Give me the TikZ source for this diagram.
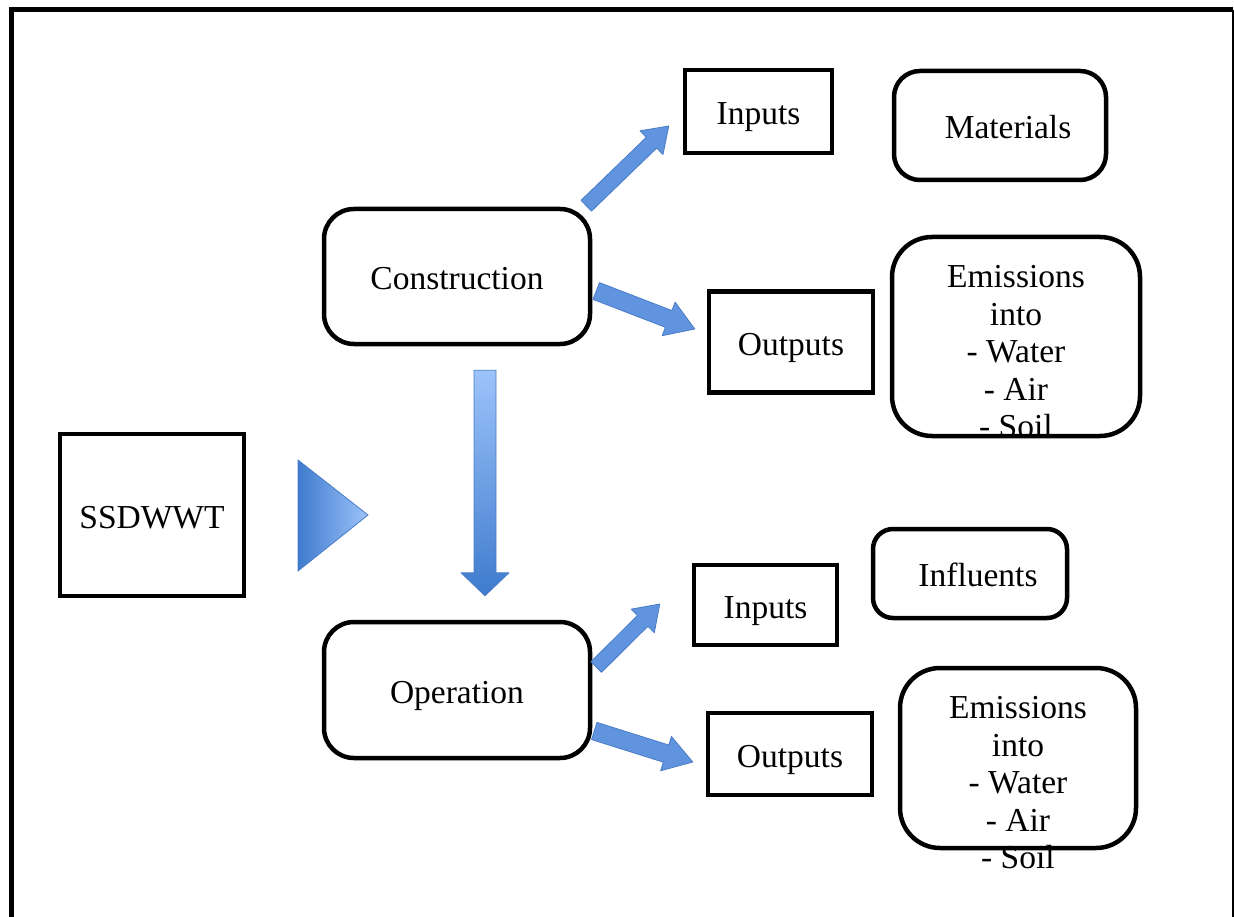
\documentclass[tikz,border=0pt]{standalone}
\usepackage{fontspec}
\setmainfont{Liberation Serif}
\usepackage{tikz}
\usetikzlibrary{positioning,calc}
\definecolor{arrowblue}{HTML}{6094DF}
\definecolor{arrowedge}{HTML}{4A7CC6}
\definecolor{shadelight}{HTML}{9DC3FA}
\definecolor{shadedark}{HTML}{3E7BCD}
\tikzstyle{sqbox}=[draw,line width=4.5pt,inner sep=0pt,align=center,text height=26pt,text depth=0pt]
\tikzstyle{rbox}=[sqbox,rounded corners=30pt]
\tikzstyle{lbl}=[inner sep=0pt,align=center]
\tikzstyle{flow}=[fill=arrowblue,draw=arrowedge,line width=0.8pt,line join=round]
\tikzstyle{bigflow}=[top color=shadelight,bottom color=shadedark,draw=arrowedge,line width=0.8pt,line join=round]
% block arrow: style, from, to, half shaft, half head, head length
\newcommand{\blockarrow}[6]{%
  \coordinate (ba-c) at ($(#3)!#6!(#2)$);
  \draw[#1] ($(#2)!#4!90:(#3)$) -- ($(ba-c)!#4!90:(#3)$) -- ($(ba-c)!#5!90:(#3)$)
    -- (#3) -- ($(ba-c)!#5!-90:(#3)$) -- ($(ba-c)!#4!-90:(#3)$) -- ($(#2)!#4!-90:(#3)$) -- cycle;
}

\begin{document}
\begin{tikzpicture}[x=1pt,y=-1pt,font=\fontsize{33.5}{37.5}\selectfont]
\useasboundingbox (0,0) rectangle (1234,917);
% frame
\draw[line width=5pt] (11,917) -- (11,10) -- (1233,10);
\draw[line width=2pt] (1233,10) -- (1233,917);

\node[sqbox,minimum width=184pt,minimum height=162pt] (ssd) at (152,515) {SSDWWT};
\shade[left color=shadedark,right color=shadelight,draw=arrowedge,line width=0.8pt] (298,460) -- (368,515) -- (298,571) -- cycle;

\node[rbox,minimum width=266pt,minimum height=135pt] (cons) at (457,276.5) {Construction};
\node[rbox,minimum width=266pt,minimum height=136pt] (op) at (457,690) {Operation};

% construction side
\node[sqbox,minimum width=147pt,minimum height=83pt] (inC) at (758.5,111.5) {Inputs};
\node[rbox,rounded corners=26pt,minimum width=212pt,minimum height=109pt] (matC) at (1000,125.5) {\hspace*{16pt}Materials};
\node[sqbox,minimum width=164pt,minimum height=101pt] (outC) at (791,342) {Outputs};
\node[rbox,rounded corners=40pt,minimum width=248pt,minimum height=199pt] (emC) at (1016,336.5) {};
\begin{scope}
\clip[rounded corners=38pt] ($(emC.south west)+(2.25,-2.25)$) rectangle ($(emC.north east)+(-2.25,2.25)$);
\node[lbl] (emCt) at ($(emC)+(0,15.5)$) {Emissions\\into\\- Water\\- Air\\- Soil};
\end{scope}

% operation side
\node[sqbox,minimum width=143pt,minimum height=80pt] (inO) at (765.5,605) {Inputs};
\node[rbox,rounded corners=20pt,minimum width=194pt,minimum height=89pt] (infO) at (970,573.5) {\hspace*{16pt}Influents};
\node[sqbox,minimum width=164pt,minimum height=82pt] (outO) at (790,754) {Outputs};
\node[rbox,rounded corners=40pt,minimum width=236pt,minimum height=180pt] (emO) at (1018,758) {};
\node[lbl] (emOt) at ($(emO)+(0,25)$) {Emissions\\into\\- Water\\- Air\\- Soil};

% arrows
\coordinate (ci-a) at ($(cons.north east)+(-6,-1)$);
\coordinate (ci-b) at ($(inC.west)+(-14,14.5)$);
\coordinate (cu-a) at ($(cons.east)+(4,14.5)$);
\coordinate (cu-b) at ($(outC.west)+(-12,-13)$);
\coordinate (oi-a) at ($(op.east)+(4,-23)$);
\coordinate (oi-b) at ($(inO.west)+(-32,-1)$);
\coordinate (ou-a) at ($(op.east)+(2,41)$);
\coordinate (ou-b) at ($(outO.west)+(-13,8)$);
\coordinate (co-a) at ($(cons.south)+(28,24)$);
\coordinate (co-b) at ($(op.north)+(28,-24)$);
\blockarrow{flow}{ci-a}{ci-b}{7.5pt}{16.5pt}{24pt}
\blockarrow{flow}{cu-a}{cu-b}{9pt}{18pt}{28pt}
\blockarrow{flow}{oi-a}{oi-b}{7.5pt}{16.5pt}{24pt}
\blockarrow{flow}{ou-a}{ou-b}{9pt}{18pt}{28pt}
\blockarrow{bigflow}{co-a}{co-b}{11pt}{24pt}{23pt}
\end{tikzpicture}
\end{document}
